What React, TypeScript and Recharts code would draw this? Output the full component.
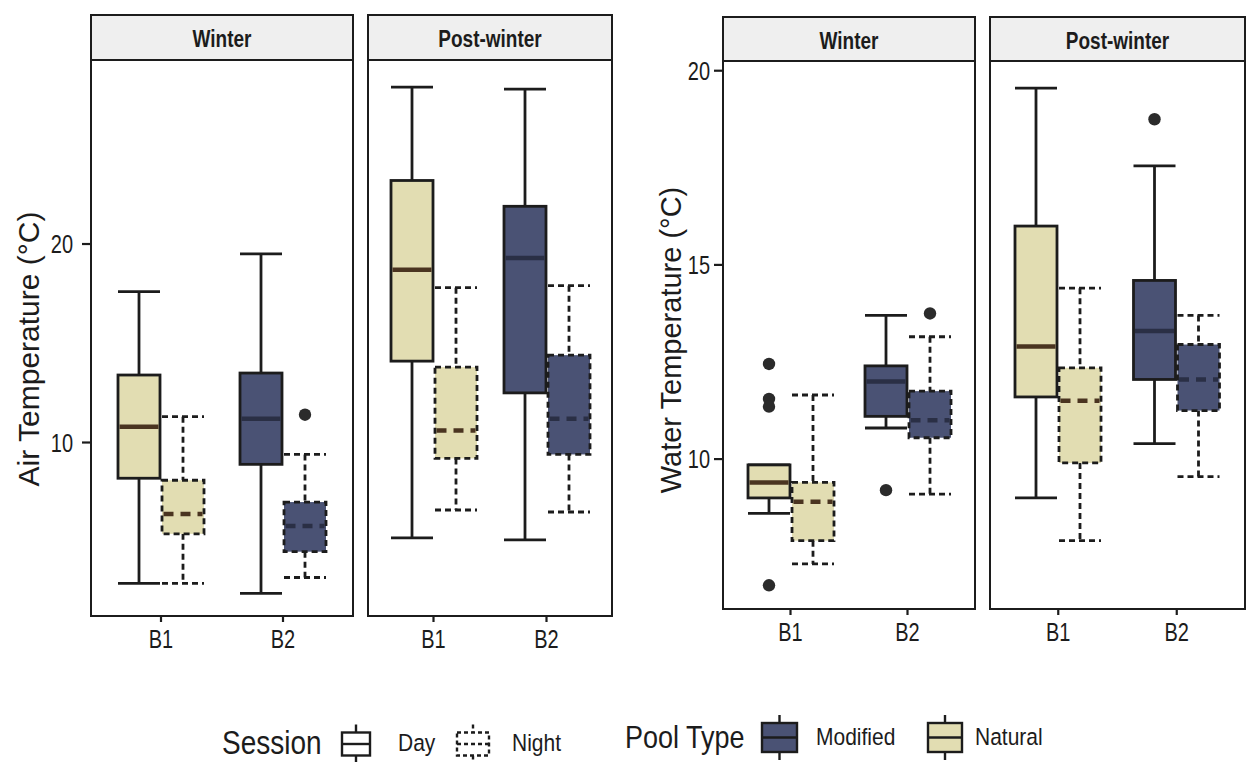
import React from 'react'
import { ComposedChart, Bar, XAxis, YAxis } from 'recharts'

const FONT = "'Liberation Sans', Arial, Helvetica, sans-serif"
const K = 1.25 // the photographed text is taller than it is wide
const NATURAL = '#e2ddb2'
const MODIFIED = '#4a5274'
const INK = '#1c1c1c'

const sites = ['B1', 'B2']
const facets = ['Winter', 'Post-winter']
const airTicks = [10, 20]
const waterTicks = [10, 15, 20]
const airDomain = [1.26, 29.27]
const waterDomain = [6.14, 20.25]

// [lower whisker, Q1, median, Q3, upper whisker] for B1, B2
const airWinterDay = [[2.9, 8.2, 10.8, 13.4, 17.6], [2.4, 8.9, 11.2, 13.5, 19.5]]
const airWinterNight = [[2.9, 5.4, 6.4, 8.1, 11.3], [3.2, 4.5, 5.8, 7.0, 9.4]]
const airPostDay = [[5.2, 14.1, 18.7, 23.2, 27.9], [5.1, 12.5, 19.3, 21.9, 27.8]]
const airPostNight = [[6.6, 9.2, 10.6, 13.8, 17.8], [6.5, 9.4, 11.2, 14.4, 17.9]]
const airWinterDayOut = [[], []]
const airWinterNightOut = [[], [11.4]]
const airPostDayOut = [[], []]
const airPostNightOut = [[], []]

const waterWinterDay = [[8.6, 9.0, 9.4, 9.85, 9.85], [10.8, 11.1, 12.0, 12.4, 13.7]]
const waterWinterNight = [[7.3, 7.9, 8.9, 9.4, 11.65], [9.1, 10.55, 11.0, 11.75, 13.15]]
const waterPostDay = [[9.0, 11.6, 12.9, 16.0, 19.55], [10.4, 12.05, 13.3, 14.6, 17.55]]
const waterPostNight = [[7.9, 9.9, 11.5, 12.35, 14.4], [9.55, 11.25, 12.05, 12.95, 13.7]]
const waterWinterDayOut = [[12.45, 11.55, 11.35, 6.75], [9.2]]
const waterWinterNightOut = [[], [13.75]]
const waterPostDayOut = [[], [18.75]]
const waterPostNightOut = [[], []]

function buildRows(day: number[][], night: number[][], dayOut: number[][], nightOut: number[][]) {
  return sites.map((site, i) => ({
    site,
    day: day[i],
    night: night[i],
    dayOut: dayOut[i],
    nightOut: nightOut[i],
    dayRange: [day[i][0], day[i][4]],
    nightRange: [night[i][0], night[i][4]],
  }))
}

function BoxShape(props: any) {
  const { x, y, width, height, payload, session } = props
  const s: number[] = payload[session]
  const out: number[] = payload[session + 'Out']
  const lo = s[0]
  const hi = s[4]
  const span = hi - lo || 1
  // whisker range bar gives us the y scale: map any value through it
  const py = (v: number) => y + (height * (hi - v)) / span
  const night = session === 'night'
  const dash = night ? '6 4' : undefined
  const natural = payload.site === 'B1'
  const cx = x + width / 2
  const line = { stroke: INK, strokeWidth: 2.8, strokeDasharray: dash }
  return (
    <g>
      {hi > s[3] && <line x1={cx} x2={cx} y1={py(hi)} y2={py(s[3])} {...line} />}
      {lo < s[1] && <line x1={cx} x2={cx} y1={py(s[1])} y2={py(lo)} {...line} />}
      <line x1={x} x2={x + width} y1={py(hi)} y2={py(hi)} {...line} />
      <line x1={x} x2={x + width} y1={py(lo)} y2={py(lo)} {...line} />
      <rect
        x={x}
        y={py(s[3])}
        width={width}
        height={py(s[1]) - py(s[3])}
        fill={natural ? NATURAL : MODIFIED}
        {...line}
      />
      <line
        x1={x + 1.5}
        x2={x + width - 1.5}
        y1={py(s[2])}
        y2={py(s[2])}
        stroke={natural ? '#4a3420' : '#2a2f45'}
        strokeWidth={4.5}
        strokeDasharray={night ? '10 7' : undefined}
      />
      {out.map((v, i) => (
        <circle key={i} cx={cx} cy={py(v)} r={6.2} fill="#2b2b2b" />
      ))}
    </g>
  )
}

const XTick = (p: any) => (
  <text
    transform={`translate(${p.x},${p.y + 15}) scale(1,${K})`}
    textAnchor="middle"
    dy="0.36em"
    fontSize={20}
    fontFamily={FONT}
    fill={INK}
  >
    {p.payload.value}
  </text>
)

const YTick = (p: any) => (
  <text
    transform={`translate(${p.x},${p.y}) scale(1,${K})`}
    textAnchor="end"
    dy="0.36em"
    fontSize={20}
    fontFamily={FONT}
    fill={INK}
  >
    {p.payload.value}
  </text>
)

function Panel(props: any) {
  const { rows, domain, ticks, left, width, plotTop, plotBottom, axisWidth, tickMargin } = props
  return (
    <div style={{ position: 'absolute', left, top: 0 }}>
      <ComposedChart
        width={width}
        height={660}
        data={rows}
        margin={{ top: plotTop, right: 0, bottom: 0, left: 0 }}
        barSize={42}
        barGap={2}
      >
        <XAxis
          dataKey="site"
          type="category"
          axisLine={false}
          tickLine={{ stroke: INK, strokeWidth: 2.2 }}
          tickSize={6}
          height={660 - plotBottom}
          padding={{ left: 9, right: 9 }}
          interval={0}
          tick={XTick}
        />
        <YAxis
          type="number"
          domain={domain}
          ticks={ticks}
          allowDataOverflow
          hide={!axisWidth}
          width={axisWidth || 0}
          axisLine={false}
          tickLine={{ stroke: INK, strokeWidth: 2.2 }}
          tickSize={9}
          tickMargin={tickMargin}
          tick={YTick}
        />
        <Bar dataKey="dayRange" isAnimationActive={false} shape={(p: any) => <BoxShape {...p} session="day" />} />
        <Bar dataKey="nightRange" isAnimationActive={false} shape={(p: any) => <BoxShape {...p} session="night" />} />
      </ComposedChart>
    </div>
  )
}

function Strip({ x, y, w, h, label, bottom }: any) {
  return (
    <g>
      <rect x={x} y={y} width={w} height={bottom - y} fill="none" stroke={INK} strokeWidth={2} />
      <rect x={x} y={y} width={w} height={h} fill="#efefef" stroke={INK} strokeWidth={2} />
      <text
        transform={`translate(${x + w / 2},${y + h / 2 + 1}) scale(1,${K})`}
        textAnchor="middle"
        dy="0.36em"
        fontSize={19}
        fontWeight="bold"
        fontFamily={FONT}
        fill={INK}
      >
        {label}
      </text>
    </g>
  )
}

function KeyGlyph({ x, cy, w, h, fill, dashed }: any) {
  const dash = dashed ? '4 3' : undefined
  const cx = x + w / 2
  return (
    <g stroke={INK} strokeWidth={2.4} strokeDasharray={dash}>
      <line x1={cx} x2={cx} y1={cy - h / 2 - 8} y2={cy - h / 2} />
      <line x1={cx} x2={cx} y1={cy + h / 2} y2={cy + h / 2 + 8} />
      <rect x={x} y={cy - h / 2} width={w} height={h} fill={fill} />
      <line x1={x} x2={x + w} y1={cy} y2={cy} />
    </g>
  )
}

function Label({ x, y, size, children }: any) {
  return (
    <text
      transform={`translate(${x},${y}) scale(1,1.18)`}
      dy="0.36em"
      fontSize={size}
      fontFamily={FONT}
      fill={INK}
    >
      {children}
    </text>
  )
}

export default function App() {
  const airWinter = buildRows(airWinterDay, airWinterNight, airWinterDayOut, airWinterNightOut)
  const airPost = buildRows(airPostDay, airPostNight, airPostDayOut, airPostNightOut)
  const waterWinter = buildRows(waterWinterDay, waterWinterNight, waterWinterDayOut, waterWinterNightOut)
  const waterPost = buildRows(waterPostDay, waterPostNight, waterPostDayOut, waterPostNightOut)

  return (
    <div
      style={{
        position: 'absolute',
        left: 0,
        top: 0,
        width: 1246,
        height: 762,
        background: '#ffffff',
        overflow: 'hidden',
        fontFamily: FONT,
      }}
    >
      <Panel rows={airWinter} domain={airDomain} ticks={airTicks} left={0} width={353} plotTop={60} plotBottom={616} axisWidth={91} tickMargin={9} />
      <Panel rows={airPost} domain={airDomain} ticks={airTicks} left={368} width={244} plotTop={60} plotBottom={616} />
      <Panel rows={waterWinter} domain={waterDomain} ticks={waterTicks} left={630} width={345} plotTop={61} plotBottom={609} axisWidth={93} tickMargin={4} />
      <Panel rows={waterPost} domain={waterDomain} ticks={waterTicks} left={990} width={255} plotTop={61} plotBottom={609} />

      <svg width={1246} height={762} style={{ position: 'absolute', left: 0, top: 0, pointerEvents: 'none' }}>
        <Strip x={91} y={15} w={262} h={45} bottom={616} label={facets[0]} />
        <Strip x={368} y={15} w={244} h={45} bottom={616} label={facets[1]} />
        <Strip x={723} y={17} w={252} h={44} bottom={609} label={facets[0]} />
        <Strip x={990} y={17} w={255} h={44} bottom={609} label={facets[1]} />

        <text transform="translate(28,349) rotate(-90)" textAnchor="middle" dy="0.35em" fontSize={30} fontFamily={FONT} fill={INK}>
          Air Temperature (°C)
        </text>
        <text transform="translate(671,340) rotate(-90)" textAnchor="middle" dy="0.35em" fontSize={29} fontFamily={FONT} fill={INK}>
          Water Temperature (°C)
        </text>

        <Label x={222} y={742} size={28}>Session</Label>
        <KeyGlyph x={342} cy={744} w={28} h={23} fill="#ffffff" />
        <Label x={398} y={742} size={21}>Day</Label>
        <KeyGlyph x={457} cy={744} w={32} h={23} fill="#ffffff" dashed />
        <Label x={512} y={742} size={21}>Night</Label>

        <Label x={625} y={737} size={27}>Pool Type</Label>
        <KeyGlyph x={762} cy={737.5} w={35} h={29} fill={MODIFIED} />
        <Label x={816} y={736} size={21}>Modified</Label>
        <KeyGlyph x={928} cy={737.5} w={34} h={29} fill={NATURAL} />
        <Label x={975} y={736} size={21}>Natural</Label>
      </svg>
    </div>
  )
}
